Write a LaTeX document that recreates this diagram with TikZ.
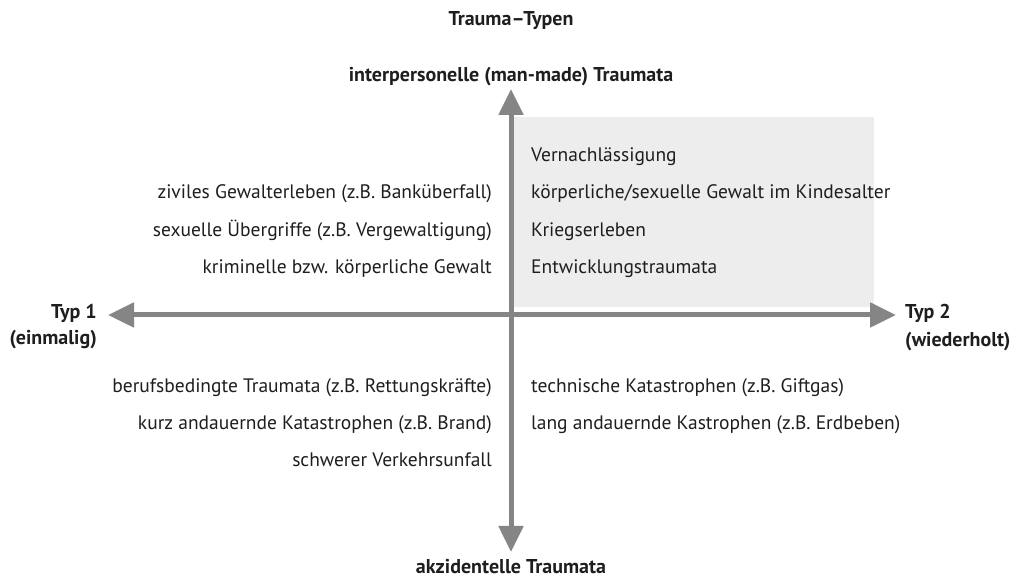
\documentclass[tikz,border=0pt]{standalone}
\usepackage{fontspec}
\setmainfont{PT Sans}
\usetikzlibrary{arrows.meta}
\definecolor{axisgray}{HTML}{858585}
\definecolor{boxgray}{HTML}{EDEDED}
\definecolor{txt}{HTML}{1E1E1E}
\begin{document}
\begin{tikzpicture}[x=1pt,y=1pt,
  lbl/.style={inner sep=0pt, text=txt, font=\fontsize{19.5}{23}\selectfont, text height=14pt, text depth=4.5pt},
  lft/.style={lbl, anchor=east},
  rgt/.style={lbl, anchor=west},
  head/.style={lbl, font=\fontsize{20}{24}\selectfont\bfseries},
  axisarrow/.style={draw=axisgray, line width=5pt, -{Triangle[length=26pt,width=24pt]}}]
\useasboundingbox (0,0) rectangle (1014,580);
\fill[boxgray] (513,273) rectangle (874,463);
% axes
\coordinate (O) at (511,265);
\coordinate (L) at (108,265);
\coordinate (R) at (896,265);
\coordinate (T) at (511,491);
\coordinate (B) at (511,28);
\draw[axisarrow] (O) -- (L);
\draw[axisarrow] (O) -- (R);
\draw[axisarrow] (O) -- (T);
\draw[axisarrow] (O) -- (B);
% titles
\node[head] (title) at (511,559) {Trauma–Typen};
\node[head] (top) at (511,503) {interpersonelle (man-made) Traumata};
\node[head] (bot) at (511,11) {akzidentelle Traumata};
\node[head, anchor=east] (t1) at (97,266) {Typ 1};
\node[head, anchor=east] (t1b) at (97,240) {(einmalig)};
\node[head, anchor=west] (t2) at (905,266) {Typ 2};
\node[head, anchor=west] (t2b) at (905,238) {(wiederholt)};
% upper left
\node[lft] (a1) at (492,386) {ziviles Gewalterleben (z.B. Banküberfall)};
\node[lft] (a2) at (492,348) {sexuelle Übergriffe (z.B. Vergewaltigung)};
\node[lft] (a3) at (492,311) {kriminelle bzw. körperliche Gewalt};
% upper right
\node[rgt] (b0) at (531,423) {Vernachlässigung};
\node[rgt] (b1) at (531,386) {körperliche/sexuelle Gewalt im Kindesalter};
\node[rgt] (b2) at (531,348) {Kriegserleben};
\node[rgt] (b3) at (531,311) {Entwicklungstraumata};
% lower left
\node[lft] (c1) at (492,192) {berufsbedingte Traumata (z.B. Rettungskräfte)};
\node[lft] (c2) at (492,155) {kurz andauernde Katastrophen (z.B. Brand)};
\node[lft] (c3) at (492,118) {schwerer Verkehrsunfall};
% lower right
\node[rgt] (d1) at (531,192) {technische Katastrophen (z.B. Giftgas)};
\node[rgt] (d2) at (531,155) {lang andauernde Kastrophen (z.B. Erdbeben)};
\end{tikzpicture}
\end{document}
